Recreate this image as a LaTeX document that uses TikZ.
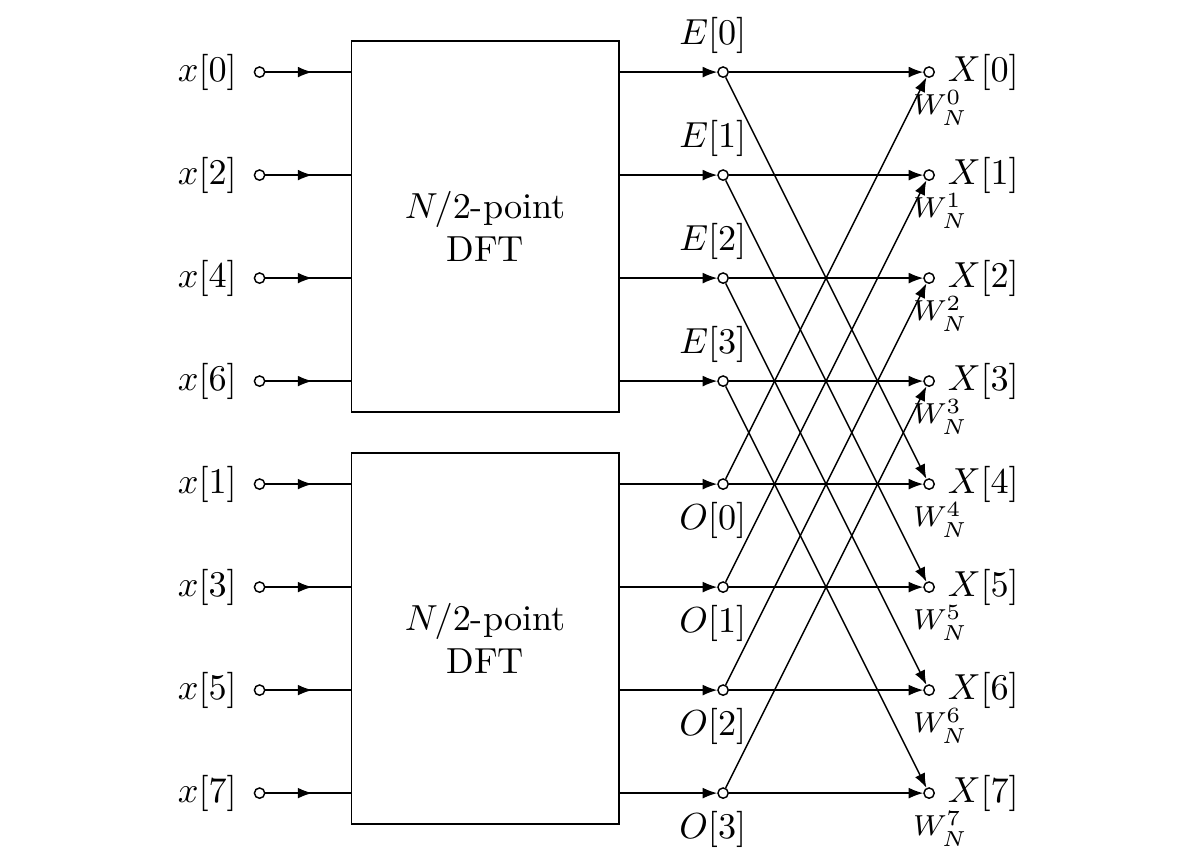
\documentclass[tikz,border=0pt]{standalone}
\usetikzlibrary{arrows.meta,decorations.markings}
\tikzset{
  dot/.style={draw,circle,fill=white,inner sep=0pt,minimum size=0.1cm},
  dftbox/.style={draw,rectangle,minimum width=2.6cm,minimum height=3.6cm,align=center},
  arr/.style={-{Latex[length=4pt,width=3pt]}},
  midarrow/.style={decoration={markings,mark=at position 0.55 with {\arrow{Latex[length=4pt,width=3pt]}}},postaction={decorate}}
}
\begin{document}
\begin{tikzpicture}
\useasboundingbox (-2.52,0.70) rectangle (9.13,-7.71);
% DFT blocks
\node[dftbox] (dft1) at (2.19,-1.5) {$N/2$-point\\DFT};
\node[dftbox] (dft2) at (2.19,-5.5) {$N/2$-point\\DFT};
% inputs, even ones first
\foreach \r/\k in {0/0,1/2,2/4,3/6,4/1,5/3,6/5,7/7} {
  \node[dot,label={[label distance=0.4mm]left:$x[\k]$}] (in\r) at (0,-\r) {};
}
% outputs with twiddle factors
\foreach \k in {0,...,7} {
  \node[dot,label={[label distance=0pt]right:$X[\k]$},
        label={[font=\footnotesize,xshift=1.1mm,label distance=0pt]below:$W_N^{\k}$}] (out\k) at (6.5,-\k) {};
}
% half-size DFT outputs
\foreach \k in {0,...,3} {
  \pgfmathtruncatemacro{\r}{\k+4}
  \node[dot,label={[xshift=-1mm]above:$E[\k]$}] (e\k) at (4.5,-\k) {};
  \node[dot,label={[xshift=-1mm]below:$O[\k]$}] (o\k) at (4.5,-\r) {};
}
% into and out of the blocks
\foreach \r in {0,...,3} {
  \pgfmathtruncatemacro{\s}{\r+4}
  \draw[midarrow] (in\r) -- (dft1.west |- in\r);
  \draw[arr] (dft1.east |- in\r) -- (e\r);
  \draw[midarrow] (in\s) -- (dft2.west |- in\s);
  \draw[arr] (dft2.east |- in\s) -- (o\r);
}
% butterflies
\foreach \k in {0,...,3} {
  \pgfmathtruncatemacro{\m}{\k+4}
  \draw[arr] (e\k) -- (out\k);
  \draw[arr] (e\k) -- (out\m);
  \draw[arr] (o\k) -- (out\k);
  \draw[arr] (o\k) -- (out\m);
}
\end{tikzpicture}
\end{document}
